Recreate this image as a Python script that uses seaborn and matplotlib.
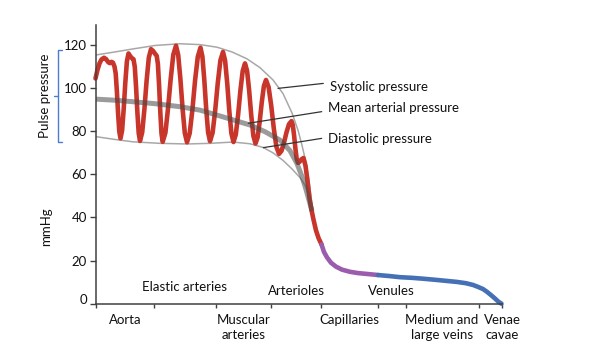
import matplotlib
matplotlib.use("Agg")
import matplotlib.pyplot as plt
import matplotlib.transforms as mtransforms
import pandas as pd
import seaborn as sns

# ---------------- data (x in arbitrary position units along the vessel path) ----------------
segment_edges = [96, 153.7, 216, 270.7, 321.3, 378, 405.5, 478.5, 502]
segment_names = ["Aorta", "Elastic arteries", "Muscular\narteries", "Arterioles",
                 "Capillaries", "Venules", "Medium and\nlarge veins", "Venae\ncavae"]
segment_inside = [False, True, False, True, False, True, False, False]
y_ticks = [0, 20, 40, 60, 80, 100, 120]

# arterial pressure wave (red)
red_x = [95.5, 97.5, 99.5, 101.5, 104,
         106, 108.3, 110, 111.5, 113, 114.5,
         115.7, 116.9, 118.1, 119.3, 120.5,
         122.1, 123.7, 125.3, 126.9, 128.5,
         130, 131.7, 133.5,
         134.8, 136.1, 137.4, 138.7, 140,
         142.2, 144.4, 146.6, 148.8, 151,
         153, 155, 156.7,
         157.9, 159.1, 160.3, 161.5, 162.7,
         165.4, 168.0, 170.7, 173.3, 176,
         178.2, 180.4, 182.6, 184.8, 187,
         189.7, 192.4, 195.1, 197.8, 200.5,
         202.4, 204.3, 206.2, 208.1, 210,
         212.6, 215.2, 217.8, 220.4, 223,
         225.1, 227.2, 229.3, 231.4, 233.5,
         235.8, 238.1, 240.4, 242.7, 245,
         247.1, 249.2, 251.3, 253.4, 255.5,
         257.6, 259.7, 261.8, 263.9, 266,
         268.6, 271.2, 273.8, 276.4, 279,
         281.5, 284, 286.5, 289, 291.5,
         292.8, 294.1, 295.4, 296.7, 298,
         299.5, 301.5, 303.5,
         305.5, 307.5, 309.5, 311.5, 313.5, 316, 318.5, 321.5]
red_y = [104.5, 108.5, 111.5, 113.3, 114.1,
         113.5, 112.0, 111.6, 112.2, 111.8, 110.0,
         106.8, 98.5, 88.2, 79.9, 76.7,
         80.4, 90.3, 102.5, 112.4, 116.1,
         115.0, 114.0, 113.4,
         109.8, 100.3, 88.6, 79.1, 75.5,
         79.5, 90.2, 103.4, 114.1, 118.1,
         117.3, 116.0, 115.0,
         111.2, 101.2, 88.9, 78.9, 75.1,
         79.3, 90.5, 104.3, 115.5, 119.7,
         115.4, 104.2, 90.4, 79.2, 74.9,
         79.1, 90.0, 103.7, 114.6, 118.8,
         114.7, 103.8, 90.4, 79.5, 75.4,
         79.3, 89.7, 102.5, 112.9, 116.8,
         112.8, 102.4, 89.4, 79.0, 75.0,
         78.5, 87.6, 98.9, 108.0, 111.5,
         108.0, 98.7, 87.1, 77.8, 74.3,
         77.1, 84.5, 93.6, 101.0, 103.8,
         100.5, 92.0, 81.3, 72.8, 69.5,
         70.9, 74.7, 79.5, 83.3, 84.7,
         82.9, 78.0, 72.0, 67.1, 65.3,
         65.8, 67.0, 67.6,
         64.0, 57.0, 49.0, 43.5, 39.0, 34.0, 30.5, 27.5]

# capillaries (purple) and veins (blue)
purple_x = [321.5, 324, 327, 331, 336, 342, 350, 358, 367, 378]
purple_y = [27.5, 24.0, 21.5, 19.0, 17.2, 15.8, 14.8, 14.2, 13.8, 13.3]
blue_x = [378, 390, 400, 412, 423, 435, 446, 457, 466, 473, 478, 483, 487, 491, 495, 498.5, 501.5]
blue_y = [13.3, 12.8, 12.3, 12.0, 11.6, 11.1, 10.6, 10.1, 9.5, 8.7, 7.8, 6.8, 5.5, 4.0, 2.4, 0.9, 0.0]

# envelopes
sys_x = [96, 115, 133, 155, 180, 200, 217, 232, 247, 260, 273, 283, 292, 298, 302, 306, 309, 312.5]
sys_y = [115.4, 116.8, 118.2, 119.8, 120.6, 120.2, 119.0, 116.8, 113.6, 109.5, 103.8, 97.5, 88.5, 80.5, 73.5, 65.5, 57.0, 44.0]
dia_x = [96, 115, 133, 160, 187, 210, 233, 250, 263, 273, 283, 292, 300, 305, 309, 312.5]
dia_y = [77.5, 76.2, 75.1, 74.4, 74.1, 74.4, 75.0, 74.2, 72.5, 70.0, 66.5, 62.5, 58.5, 55.0, 49.5, 44.0]
map_x = [96, 115, 133, 155, 180, 200, 217, 235, 250, 265, 280, 290, 297, 302, 306, 309, 312]
map_y = [94.9, 94.4, 93.7, 92.8, 91.4, 89.8, 87.5, 85.0, 82.9, 79.8, 75.9, 71.0, 65.0, 59.0, 53.0, 48.0, 43.0]

# callouts
callout_labels = ["Systolic pressure", "Mean arterial pressure", "Diastolic pressure"]
callout_from_x = [278, 248.3, 263.3]
callout_from_y = [99.9, 83.7, 72.4]
callout_to_x = [323.3, 321.7, 321.7]
callout_to_y = [102.2, 89.1, 76.7]
callout_text_y = [100.6, 90.6, 76.4]

pulse_top, pulse_bottom = 117.7, 75.1

# ---------------- drawing ----------------
sns.set_theme(style="ticks")
plt.rcParams["font.family"] = ["Lato", "DejaVu Sans"]

fig = plt.figure(figsize=(5.98, 3.45), dpi=100)
ax = fig.add_axes([96 / 598, 1 - 303.7 / 345, 406 / 598, (303.7 - 25) / 345])

env_kw = dict(color="#a8a8a8", lw=1.1, sort=False, estimator=None, ax=ax)
sns.lineplot(x=sys_x, y=sys_y, **env_kw)
sns.lineplot(x=dia_x, y=dia_y, **env_kw)

df = pd.DataFrame({
    "x": red_x + purple_x + blue_x,
    "y": red_y + purple_y + blue_y,
    "section": ["arteries"] * len(red_x) + ["capillaries"] * len(purple_x) + ["veins"] * len(blue_x),
})
sns.lineplot(data=df, x="x", y="y", hue="section",
             palette={"arteries": "#c8352a", "capillaries": "#9b5cae", "veins": "#4670b6"},
             lw=3.3, sort=False, estimator=None, legend=False, ax=ax,
             solid_capstyle="round", solid_joinstyle="round", clip_on=False)

sns.lineplot(x=map_x, y=map_y, color="#4a4a4a", alpha=0.55, lw=3.6,
             sort=False, estimator=None, ax=ax, solid_capstyle="butt")

# callout lines and labels
for lab, fx, fy, tx, ty, ly in zip(callout_labels, callout_from_x, callout_from_y,
                                   callout_to_x, callout_to_y, callout_text_y):
    ax.plot([fx, tx], [fy, ty], color="#333333", lw=0.9, clip_on=False)
    ax.text(tx + 6.5, ly, lab, ha="left", va="center", fontsize=9.5, color="#111111", clip_on=False)

# axes styling
ax.set_xlim(96, 502)
ax.set_ylim(0, 129.3)
ax.set_yticks(y_ticks)
ax.set_xticks(segment_edges)
ax.set_xticklabels([])
ax.tick_params(axis="y", length=4.5, width=1, color="#404040", labelsize=9.5,
               labelcolor="#111111", pad=2)
ax.tick_params(axis="x", length=3, width=1, color="#404040")
for side in ["top", "right"]:
    ax.spines[side].set_visible(False)
for side in ["left", "bottom"]:
    ax.spines[side].set_color("#404040")
    ax.spines[side].set_linewidth(1.1)
ax.set_xlabel("")
ax.set_ylabel("mmHg", fontsize=9.5, color="#111111")
ax.yaxis.set_label_coords(-0.109, 0.276)

# the "0" label sits slightly above its tick in the reference
zero_lab = ax.yaxis.get_major_ticks()[0].label1
zero_lab.set_transform(zero_lab.get_transform() +
                       mtransforms.ScaledTranslation(0, 5 / 100, fig.dpi_scale_trans))

# segment names
for i, (name, inside) in enumerate(zip(segment_names, segment_inside)):
    c = (segment_edges[i] + segment_edges[i + 1]) / 2
    if i == len(segment_names) - 1:
        c = segment_edges[-1]
    if not inside:
        ax.text(c, -4.6, name, ha="center", va="top", fontsize=9.5, color="#111111",
                linespacing=1.35, clip_on=False)
    else:
        yy = 7.6 if i == 1 else 6.0
        ax.text(c, yy, name, ha="center", va="center", fontsize=9.5, color="#111111")

# pulse pressure bracket
bc = "#4a7fd0"
ax.plot([62, 58, 58, 62], [pulse_top, pulse_top, pulse_bottom, pulse_bottom],
        color=bc, lw=1.0, clip_on=False)
mid = (pulse_top + pulse_bottom) / 2
ax.plot([54, 58], [mid, mid], color=bc, lw=1.0, clip_on=False)
ax.text(45, mid, "Pulse pressure", rotation=90, ha="center", va="center",
        fontsize=9.5, color="#111111", clip_on=False)

fig.savefig("out.png", dpi=100)
